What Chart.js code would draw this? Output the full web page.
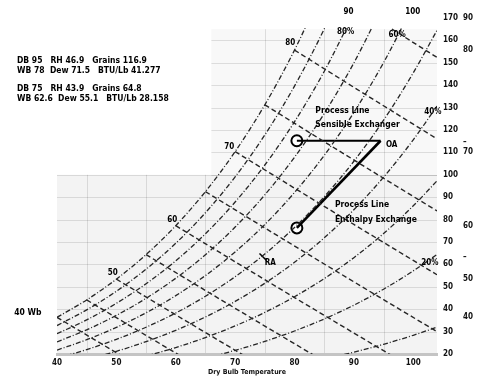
<!DOCTYPE html>
<html>
<head>
<meta charset="utf-8">
<script src="https://cdn.jsdelivr.net/npm/chart.js@4.4.1/dist/chart.umd.min.js"></script>
<style>
html, body { margin: 0; padding: 0; background: #fff; }
</style>
</head>
<body>
<canvas id="psy" width="478" height="376"></canvas>
<script>
// dry bulb (F) / grains of moisture per lb dry air
const xTicks = [40, 50, 60, 70, 80, 90, 100];
const grainTicks = [20, 30, 40, 50, 60, 70, 80, 90, 100, 110, 120, 130, 140, 150, 160, 170];
const dewTickGrains = [170, 155.67, 114.6, 110.36, 77.28, 63.3, 53.41, 36.36];
const dewTickLabels = ['90', '80', '\u2013', '70', '60', '\u2013', '50', '40'];
const gridTemps = [45, 55, 65, 75, 85, 95];

// saturation curve (100% RH)
const satTemps = [40, 45, 50, 55, 60, 65, 70, 75, 80, 85];
const satGrains = [36.36, 44.14, 53.41, 64.37, 77.28, 92.49, 110.36, 131.24, 155.67, 184.17];

// relative humidity curves
const rhTemps = [40, 45, 50, 55, 60, 65, 70, 75, 80, 85, 90, 95, 100, 104];
const rh90 = [32.70, 39.69, 48.01, 57.85, 69.43, 83.07, 99.07, 117.78, 139.61, 165.07, 194.7];
const rh80 = [29.04, 35.24, 42.63, 51.35, 61.60, 73.68, 87.85, 104.37, 123.67, 146.13, 172.2];
const rh70 = [25.39, 30.81, 37.25, 44.86, 53.81, 64.33, 76.67, 91.05, 107.83, 127.33, 149.96, 176.2];
const rh60 = [21.75, 26.37, 31.89, 38.39, 46.04, 55.02, 65.56, 77.80, 92.09, 108.66, 127.86, 150.07, 175.7];
const rh50 = [18.10, 21.96, 26.55, 31.95, 38.30, 45.76, 54.49, 64.64, 76.47, 90.18, 106.04, 124.37, 145.5, 164.5];
const rh40 = [14.47, 17.55, 21.20, 25.52, 30.58, 36.53, 43.48, 51.57, 60.96, 71.85, 84.42, 98.93, 115.6, 130.7];
const rh30 = [10.85, 13.15, 15.88, 19.11, 22.90, 27.34, 32.53, 38.56, 45.56, 53.66, 63.01, 73.78, 86.15, 97.28];
const rh20 = [7.22, 8.76, 10.58, 12.72, 15.24, 18.19, 21.63, 25.63, 30.27, 35.63, 41.81, 48.93, 57.09, 64.41];
const rh10 = [3.6, 4.4, 5.3, 6.4, 7.6, 9.1, 10.79, 12.78, 15.09, 17.75, 20.81, 24.33, 28.36, 31.97];

// wet bulb lines [dry bulb, grains]
const wb40 = [[40, 36.36], [50, 20.58], [51, 19.01]];
const wb45 = [[45, 44.14], [55, 28.29], [60, 20.42], [61, 18.85]];
const wb50 = [[50, 53.41], [60, 37.48], [70, 21.68], [72, 18.54]];
const wb55 = [[55, 64.37], [65, 48.35], [75, 32.47], [83, 19.86], [84, 18.3]];
const wb60 = [[60, 77.28], [70, 61.17], [80, 45.19], [90, 29.35], [97, 18.33]];
const wb65 = [[65, 92.49], [75, 76.27], [85, 60.19], [95, 44.24], [104, 30.0]];
const wb70 = [[70, 110.36], [80, 94.03], [90, 77.83], [100, 61.77], [104, 55.38]];
const wb75 = [[75, 131.24], [85, 114.78], [95, 98.45], [104, 83.87]];
const wb80 = [[80, 155.67], [90, 139.05], [100, 122.59], [104, 116.03]];
const wb85 = [[85, 184.17], [95, 167.39], [104, 152.41]];

// states: outside air, return air
const stateDB = [95, 75];
const stateRH = [46.9, 43.9];
const stateGrains = [116.9, 64.8];
const stateWB = [78, 62.6];
const stateDew = [71.5, 55.1];
const stateBTU = ['41.277', '28.158'];

// process lines as plotted
const sensibleLine = [[80.4, 115.2], [94.5, 115.2]];
const enthalpyLine = [[94.5, 115.2], [80.4, 76.3]];
const supplyPoints = [[80.4, 115.2], [80.4, 76.3]];
const raPoint = [[74.7, 63.3]];

const FONT = "'DejaVu Sans Condensed', 'DejaVu Sans', sans-serif";
Chart.defaults.font.family = FONT;
Chart.defaults.color = '#111';

function pts(temps, vals) {
    return vals.map((v, i) => ({ x: temps[i], y: v }));
}
function pairs(arr) {
    return arr.map(p => ({ x: p[0], y: p[1] }));
}

const lineColor = '#262626';
const topClip = { left: 0, top: -10, right: 0, bottom: 0 };
function rhSet(data) {
    return { data: data, showLine: true, borderColor: lineColor, borderWidth: 1.3, borderDash: [5, 2, 1, 2],
        pointRadius: 0, cubicInterpolationMode: 'monotone', fill: false, clip: topClip };
}
function wbSet(data) {
    return { data: data, showLine: true, borderColor: lineColor, borderWidth: 1.4, borderDash: [5, 3],
        pointRadius: 0, fill: false, clip: topClip };
}

const datasets = [
    rhSet(pts(satTemps, satGrains)),
    rhSet(pts(rhTemps, rh90)),
    rhSet(pts(rhTemps, rh80)),
    rhSet(pts(rhTemps, rh70)),
    rhSet(pts(rhTemps, rh60)),
    rhSet(pts(rhTemps, rh50)),
    rhSet(pts(rhTemps, rh40)),
    rhSet(pts(rhTemps, rh30)),
    rhSet(pts(rhTemps, rh20)),
    rhSet(pts(rhTemps, rh10)),
    wbSet(pairs(wb40)), wbSet(pairs(wb45)), wbSet(pairs(wb50)), wbSet(pairs(wb55)),
    wbSet(pairs(wb60)), wbSet(pairs(wb65)), wbSet(pairs(wb70)), wbSet(pairs(wb75)),
    wbSet(pairs(wb80)), wbSet(pairs(wb85)),
    { data: pairs(sensibleLine), showLine: true, borderColor: '#000', borderWidth: 2, pointRadius: 0 },
    { data: pairs(enthalpyLine), showLine: true, borderColor: '#000', borderWidth: 2.6, pointRadius: 0 },
    { data: pairs(supplyPoints), showLine: false, pointRadius: 5.5, pointBorderWidth: 2,
        pointBorderColor: '#000', pointBackgroundColor: '#fff' },
    { data: pairs(raPoint), showLine: false, pointStyle: 'line', pointRotation: 45, pointRadius: 5,
        pointBorderWidth: 1.5, pointBorderColor: '#000' }
];

// text placed in data coordinates
const chartLabels = [
    { t: '40 Wb', x: 35.1, y: 38.3 },
    { t: '50', x: 49.4, y: 56.2 },
    { t: '60', x: 59.4, y: 79.8 },
    { t: '70', x: 69.0, y: 112.4 },
    { t: '80', x: 79.3, y: 158.8 },
    { t: '90', x: 89.1, y: 172.7 },
    { t: '100', x: 99.9, y: 172.7 },
    { t: '80%', x: 88.6, y: 163.8 },
    { t: '60%', x: 97.3, y: 162.4 },
    { t: '40%', x: 103.3, y: 128 },
    { t: '20%', x: 102.8, y: 60.6 },
    { t: 'OA', x: 95.4, y: 113.3, align: 'left' },
    { t: 'RA', x: 75.0, y: 60.6, align: 'left' },
    { t: 'Process Line', x: 83.5, y: 128.5, align: 'left' },
    { t: 'Sensible Exchanger', x: 83.5, y: 122.2, align: 'left' },
    { t: 'Process Line', x: 86.8, y: 86.5, align: 'left' },
    { t: 'Enthalpy Exchange', x: 86.8, y: 79.8, align: 'left' }
];

// shaded panels [T from, T to, grains from, grains to]
const panels = [[40, 104, 20, 100, '#f3f3f3'], [66, 104, 100, 165, '#f8f8f8']];

const psyPlugin = {
    id: 'psy',
    beforeDraw(chart) {
        const { ctx, scales: { x, y } } = chart;
        ctx.save();
        panels.forEach(p => {
            const l = x.getPixelForValue(p[0]), r = x.getPixelForValue(p[1]);
            const b = y.getPixelForValue(p[2]), t = y.getPixelForValue(p[3]);
            ctx.fillStyle = p[4];
            ctx.fillRect(l, t, r - l, b - t);
            ctx.strokeStyle = 'rgba(0,0,0,0.11)';
            ctx.lineWidth = 1;
            ctx.beginPath();
            grainTicks.forEach(g => {
                if (g < p[2] || g > p[3]) return;
                const py = Math.round(y.getPixelForValue(g)) + 0.5;
                ctx.moveTo(l, py);
                ctx.lineTo(r, py);
            });
            gridTemps.forEach(tt => {
                if (tt < p[0] || tt > p[1]) return;
                const px = Math.round(x.getPixelForValue(tt)) + 0.5;
                ctx.moveTo(px, t);
                ctx.lineTo(px, b);
            });
            ctx.stroke();
        });
        ctx.restore();
    },
    afterDatasetsDraw(chart) {
        const { ctx, scales: { x, y } } = chart;
        ctx.save();
        ctx.fillStyle = '#000';
        ctx.textBaseline = 'middle';
        chartLabels.forEach(l => {
            const big = l.t.length > 4;
            ctx.font = (big ? 'bold 8.5px ' : 'bold 8px ') + FONT;
            ctx.textAlign = l.align || 'center';
            ctx.fillText(l.t, x.getPixelForValue(l.x), y.getPixelForValue(l.y));
        });
        // state readouts, top left
        ctx.font = 'bold 8.5px ' + FONT;
        ctx.textAlign = 'left';
        const rows = [61, 89];
        stateDB.forEach((db, i) => {
            ctx.fillText('DB ' + db + '   RH ' + stateRH[i] + '   Grains ' + stateGrains[i], 17, rows[i]);
            ctx.fillText('WB ' + stateWB[i] + '  Dew ' + stateDew[i] + '   BTU/Lb ' + stateBTU[i], 17, rows[i] + 10);
        });
        ctx.restore();
    }
};

new Chart(document.getElementById('psy'), {
    type: 'scatter',
    data: { datasets: datasets },
    options: {
        responsive: false,
        animation: false,
        layout: { padding: { left: 57, top: 18, right: 0, bottom: 0 } },
        plugins: { legend: { display: false }, tooltip: { enabled: false } },
        scales: {
            x: {
                type: 'linear', min: 40, max: 104,
                afterBuildTicks: s => { s.ticks = xTicks.map(v => ({ value: v })); },
                afterFit: s => { s.height = 22; },
                grid: { display: false, drawTicks: false },
                border: { display: true, color: '#c4c4c4', width: 3 },
                ticks: { font: { weight: 'bold', size: 8 }, padding: 4, maxRotation: 0 },
                title: { display: true, text: 'Dry Bulb Temperature', font: { weight: 'bold', size: 7 },
                    padding: { top: 0, bottom: 0 } }
            },
            y: {
                position: 'right', min: 20, max: 170,
                afterBuildTicks: s => { s.ticks = grainTicks.map(v => ({ value: v })); },
                afterFit: s => { s.width = 22; },
                grid: { display: false, drawTicks: false },
                border: { display: false },
                ticks: { font: { weight: 'bold', size: 8 }, padding: 6 }
            },
            dew: {
                position: 'right', min: 20, max: 170,
                afterBuildTicks: s => { s.ticks = dewTickGrains.map(v => ({ value: v })); },
                afterFit: s => { s.width = 19; },
                grid: { display: false, drawTicks: false },
                border: { display: false },
                ticks: { font: { weight: 'bold', size: 8 }, padding: 4, autoSkip: false,
                    callback: (v, i) => dewTickLabels[i] }
            }
        }
    },
    plugins: [psyPlugin]
});
</script>
</body>
</html>
